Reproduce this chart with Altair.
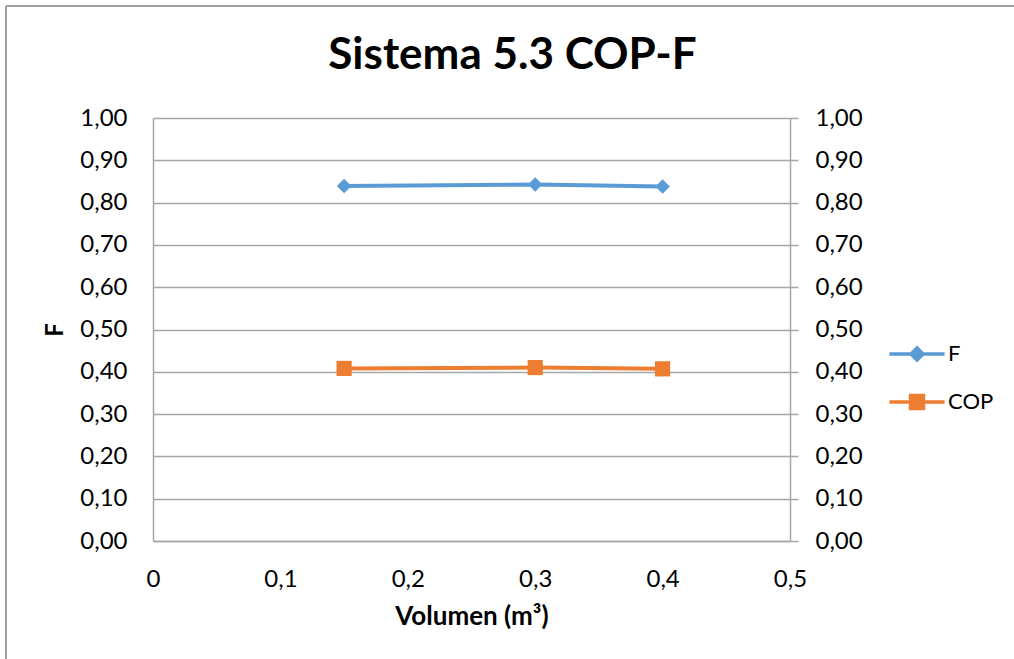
import altair as alt
import pandas as pd

volumen = [0.15, 0.3, 0.4]
f_vals = [0.839, 0.843, 0.838]
cop_vals = [0.408, 0.410, 0.407]
series = ["F", "COP"]
colors = ["#5b9bd5", "#ed7d31"]
x_ticks = [0, 0.1, 0.2, 0.3, 0.4, 0.5]
y_ticks = [0, 0.1, 0.2, 0.3, 0.4, 0.5, 0.6, 0.7, 0.8, 0.9, 1.0]

rows = []
for v, f in zip(volumen, f_vals):
    rows.append({"Volumen": v, "valor": f, "serie": "F"})
for v, c in zip(volumen, cop_vals):
    rows.append({"Volumen": v, "valor": c, "serie": "COP"})
df = pd.DataFrame(rows)

FONT = "Lato"
GRID = "#a6a6a6"
W, H = 637, 423
LBL = 24

ylab = "replace(format(datum.value, '.2f'), '.', ',')"
xlab = "datum.value == 0 ? '0' : replace(format(datum.value, '.1f'), '.', ',')"

x_enc = alt.X(
    "Volumen:Q",
    scale=alt.Scale(domain=[0, 0.5], nice=False, zero=True),
    axis=alt.Axis(
        title="Volumen (m³)", values=x_ticks, labelExpr=xlab, grid=False,
        ticks=False, domainColor=GRID, domainWidth=1.5, labelPadding=26,
        labelFlush=False, labelFontSize=LBL, labelFont=FONT, labelColor="#000000",
        titleFont=FONT, titleFontSize=26, titleFontWeight="bold",
        titleColor="#000000", titlePadding=12,
    ),
)

y_scale = alt.Scale(domain=[0, 1], nice=False)
color_scale = alt.Scale(domain=series, range=colors)

path_f = "M-1.15,0L1.15,0M-0.25,0L0,-0.25L0.25,0L0,0.25Z"
path_cop = "M-1.15,0L1.15,0M-0.27,-0.27L0.27,-0.27L0.27,0.27L-0.27,0.27Z"

legend = alt.Legend(
    title=None, orient="none", legendX=738, legendY=210, padding=0,
    symbolSize=48 * 48, labelOffset=5, labelFontSize=22, labelFont=FONT,
    labelColor="#000000", rowPadding=9, symbolStrokeWidth=3.5, symbolOpacity=1,
)

y_left = alt.Y(
    "valor:Q", scale=y_scale,
    axis=alt.Axis(
        title="F", values=y_ticks, labelExpr=ylab, grid=True, gridColor=GRID,
        gridWidth=1.5, ticks=False, domainColor=GRID, domainWidth=1.5,
        labelPadding=26, labelFontSize=LBL, labelFont=FONT, labelColor="#000000",
        titleFont=FONT, titleFontSize=24, titleFontWeight="bold",
        titleColor="#000000", titlePadding=12,
    ),
)

base = alt.Chart(df)
layers = []
for name, col, shp, sz in zip(series, colors, ["diamond", "square"], [210, 230]):
    sub = base.transform_filter(f"datum.serie == '{name}'")
    layers.append(sub.mark_line(strokeWidth=4, color=col).encode(x=x_enc, y=y_left))
    layers.append(
        sub.mark_point(filled=True, opacity=1, shape=shp, size=sz, color=col).encode(x=x_enc, y=y_left)
    )
inner = alt.layer(*layers)

right = base.mark_point(opacity=0).encode(
    x=x_enc,
    y=alt.Y(
        "valor:Q", scale=y_scale,
        axis=alt.Axis(
            title=None, orient="right", values=y_ticks, labelExpr=ylab, grid=False,
            ticks=True, tickSize=8, tickColor=GRID, tickWidth=1.5,
            domainColor=GRID, domainWidth=1.5, labelPadding=17,
            labelFontSize=LBL, labelFont=FONT, labelColor="#000000",
        ),
    ),
)

legend_layer = base.transform_filter("false").mark_point(
    filled=True, strokeWidth=3.5
).encode(
    color=alt.Color("serie:N", scale=color_scale, sort=series, legend=legend),
    stroke=alt.Stroke("serie:N", scale=color_scale, sort=series, legend=legend),
    shape=alt.Shape("serie:N", scale=alt.Scale(domain=series, range=[path_f, path_cop]),
                    sort=series, legend=legend),
)

border_top = alt.Chart(df).mark_rule(color="#a0a0a0", strokeWidth=1.5).encode(
    x=alt.value(-147), x2=alt.value(870), y=alt.value(-112)
)
border_left = alt.Chart(df).mark_rule(color="#a0a0a0", strokeWidth=1.5).encode(
    x=alt.value(-147), y=alt.value(-112), y2=alt.value(560)
)

chart = (
    alt.layer(inner, right, legend_layer, border_top, border_left)
    .resolve_scale(y="independent")
    .properties(
        width=W, height=H,
        autosize=alt.AutoSizeParams(type="none"),
        padding={"left": 153, "top": 118, "right": 224, "bottom": 118},
        title=alt.TitleParams(
            "Sistema 5.3 COP-F", font=FONT, fontSize=44, fontWeight="bold",
            color="#000000", anchor="middle", frame="group", dx=41, offset=0,
            baseline="alphabetic", dy=108,
        ),
    )
    .configure_view(stroke=None)
    .configure(background="white")
)

chart.save("out.html", embed_options={"renderer": "svg", "actions": False})
